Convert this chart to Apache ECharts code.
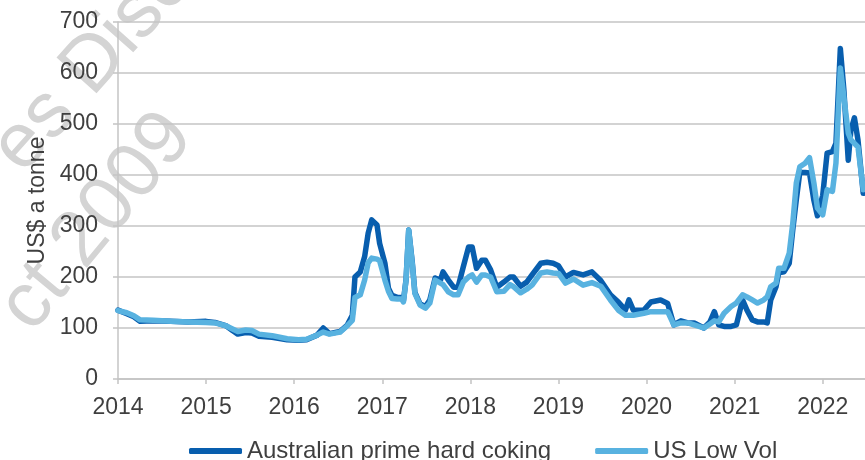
<!DOCTYPE html>
<html>
<head>
<meta charset="utf-8">
<script src="https://cdn.jsdelivr.net/npm/echarts@6/dist/echarts.min.js"></script>
<style>
html,body{margin:0;padding:0;background:#fff;}
#chart{width:865px;height:460px;}
</style>
</head>
<body>
<div id="chart"></div>
<script>
const seriesNames = ['Australian prime hard coking', 'US Low Vol'];
const xTicks = [2014, 2015, 2016, 2017, 2018, 2019, 2020, 2021, 2022];
const yTicks = [0, 100, 200, 300, 400, 500, 600, 700];
const dates = [2014.00, 2014.10, 2014.18, 2014.25, 2014.40, 2014.60, 2014.80, 2015.00, 2015.10, 2015.23,
  2015.30, 2015.36, 2015.45, 2015.52, 2015.60, 2015.75, 2015.92, 2016.05, 2016.14, 2016.26,
  2016.33, 2016.40, 2016.52, 2016.60, 2016.66, 2016.69, 2016.75, 2016.80, 2016.84, 2016.88,
  2016.94, 2016.97, 2017.03, 2017.07, 2017.11, 2017.17, 2017.22, 2017.24, 2017.27, 2017.30,
  2017.34, 2017.37, 2017.43, 2017.49, 2017.54, 2017.60, 2017.66, 2017.69, 2017.75, 2017.81,
  2017.86, 2017.92, 2017.98, 2018.02, 2018.07, 2018.13, 2018.17, 2018.23, 2018.30, 2018.38,
  2018.45, 2018.49, 2018.57, 2018.64, 2018.70, 2018.80, 2018.87, 2018.94, 2019.00, 2019.08,
  2019.17, 2019.28, 2019.38, 2019.48, 2019.59, 2019.68, 2019.76, 2019.80, 2019.85, 2019.97,
  2020.05, 2020.16, 2020.24, 2020.31, 2020.39, 2020.47, 2020.54, 2020.65, 2020.72, 2020.77,
  2020.82, 2020.88, 2020.96, 2021.02, 2021.09, 2021.14, 2021.20, 2021.26, 2021.33, 2021.37,
  2021.41, 2021.47, 2021.50, 2021.56, 2021.62, 2021.66, 2021.70, 2021.74, 2021.80, 2021.85,
  2021.90, 2021.94, 2022.00, 2022.05, 2022.11, 2022.15, 2022.20, 2022.24, 2022.29, 2022.32,
  2022.36, 2022.40, 2022.46];
const australian = [135, 128, 122, 113, 114, 113, 112, 113, 111, 104,
  95, 88, 91, 90, 84, 82, 77, 76, 77, 86,
  100, 89, 93, 105, 125, 200, 210, 240, 286, 312,
  302, 266, 227, 178, 164, 160, 160, 153, 195, 292,
  230, 170, 147, 142, 155, 198, 194, 210, 194, 180,
  180, 220, 259, 259, 217, 233, 233, 214, 180, 190,
  200, 200, 182, 190, 204, 227, 229, 227, 222, 200,
  209, 204, 210, 193, 165, 151, 135, 155, 135, 135,
  151, 155, 148, 106, 114, 110, 110, 100, 112, 132,
  106, 103, 103, 106, 155, 135, 116, 112, 112, 110,
  155, 181, 208, 210, 227, 292, 351, 405, 405, 404,
  350, 320, 360, 443, 446, 462, 648, 567, 429, 488,
  512, 469, 364];
const usLowVol = [134, 130, 124, 116, 115, 113, 112, 111, 110, 104,
  98, 93, 96, 95, 88, 85, 79, 77, 78, 86,
  92, 88, 92, 104, 115, 160, 165, 194, 228, 237,
  235, 232, 194, 172, 158, 157, 157, 151, 194, 292,
  227, 168, 145, 139, 149, 194, 188, 185, 171, 165,
  165, 190, 200, 204, 190, 204, 204, 200, 171, 172,
  185, 181, 169, 176, 184, 208, 210, 208, 207, 188,
  196, 184, 189, 182, 155, 135, 125, 125, 125, 129,
  132, 132, 132, 106, 110, 110, 106, 100, 108, 114,
  112, 129, 142, 149, 165, 161, 155, 149, 155, 161,
  181, 188, 217, 217, 247, 305, 384, 416, 423, 434,
  384, 335, 322, 371, 368, 423, 610, 553, 482, 469,
  462, 455, 371];

const FONT = "'Liberation Sans', Arial, sans-serif";
const TXT = '#3f3f3f';
const GRID = '#c4c4c4';

const chart = echarts.init(document.getElementById('chart'), null, {renderer: 'canvas'});
chart.setOption({
  animation: false,
  backgroundColor: '#ffffff',
  textStyle: {fontFamily: FONT},
  graphic: [
    {type: 'text', x: 92, y: 66, rotation: 0.84, z: -10, silent: true,
     style: {text: 'es Disc', fontSize: 78, fontFamily: FONT, fill: '#d4d4d4', align: 'center', verticalAlign: 'middle'}},
    {type: 'text', x: 97, y: 222, rotation: 0.88, z: -10, silent: true,
     style: {text: 'ct 2009', fontSize: 78, fontFamily: FONT, fill: '#d4d4d4', align: 'center', verticalAlign: 'middle'}}
  ],
  grid: {left: 118, right: 0, top: 22, bottom: 81, containLabel: false},
  legend: {
    left: 184, top: 434,
    itemWidth: 53, itemHeight: 6, itemGap: 44,
    icon: 'roundRect',
    textStyle: {fontSize: 24, color: TXT, fontFamily: FONT},
    data: seriesNames
  },
  xAxis: {
    type: 'value', min: 2014, max: 2022.48, interval: 1,
    axisLine: {show: true, lineStyle: {color: GRID, width: 1.5}},
    axisTick: {show: true, length: 5, lineStyle: {color: GRID, width: 1.5}, customValues: xTicks},
    axisLabel: {fontSize: 23, color: TXT, fontFamily: FONT, margin: 17, customValues: xTicks,
                formatter: v => String(Math.round(v))},
    splitLine: {show: false}
  },
  yAxis: {
    type: 'value', min: yTicks[0], max: yTicks[yTicks.length - 1], interval: 100,
    name: 'US$ a tonne', nameLocation: 'middle', nameGap: 65, nameRotate: 90,
    nameTextStyle: {fontSize: 23, color: TXT, fontFamily: FONT},
    axisLine: {show: true, lineStyle: {color: GRID, width: 1.5}},
    axisTick: {show: true, length: 5, lineStyle: {color: GRID, width: 1.5}},
    axisLabel: {fontSize: 23, color: TXT, fontFamily: FONT, margin: 20},
    splitLine: {show: true, lineStyle: {color: GRID, width: 1.5}}
  },
  series: [
    {name: seriesNames[0], type: 'line', showSymbol: false, symbol: 'none',
     color: '#085eae',
     lineStyle: {width: 5.5, color: '#085eae', cap: 'round', join: 'round'},
     data: dates.map((d, i) => [d, australian[i]])},
    {name: seriesNames[1], type: 'line', showSymbol: false, symbol: 'none',
     color: '#58b2e0',
     lineStyle: {width: 5.5, color: '#58b2e0', cap: 'round', join: 'round'},
     data: dates.map((d, i) => [d, usLowVol[i]])}
  ]
});
</script>
</body>
</html>
